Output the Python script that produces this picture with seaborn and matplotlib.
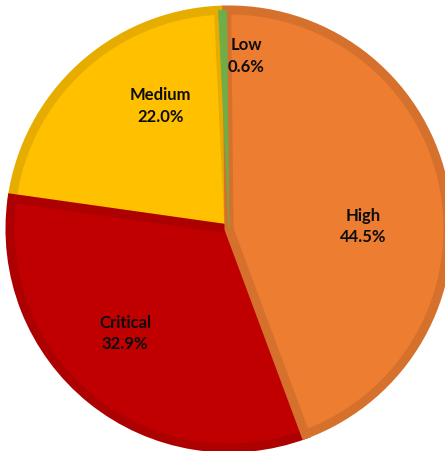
import matplotlib
matplotlib.use("Agg")
import matplotlib.pyplot as plt
import matplotlib.colors as mcolors
import seaborn as sns

# Severity breakdown (percent), listed counter-clockwise from the top
categories = ["Low", "Medium", "Critical", "High"]
shares = [0.6, 22.0, 32.9, 44.5]
fill_colors = ["#70AD47", "#FFC000", "#C00000", "#ED7D31"]

# Label anchor points (fractions of the axes) for each slice's text
label_pos = [(0.553, 0.876), (0.360, 0.765), (0.281, 0.260), (0.816, 0.497)]

sns.set_theme(style="white")
plt.rcParams["font.family"] = ["Lato", "DejaVu Sans"]

fig = plt.figure(figsize=(4.45, 4.51), dpi=100)
ax = fig.add_axes([0, 0, 1, 1])

wedges, _ = ax.pie(shares, colors=fill_colors, startangle=90.6,
                   counterclock=True, radius=1.0)


def darker(c, f=0.9):
    r, g, b = mcolors.to_rgb(c)
    return (r * f, g * f, b * f)


# Inner bevel-like border: a thick stroke clipped to each slice's own outline
for w, c, s in zip(wedges, fill_colors, shares):
    if s > 2:
        w.set_edgecolor(darker(c))
        w.set_linewidth(6.5)
        w.set_clip_path(w.get_path(), w.get_transform())
    else:
        w.set_edgecolor(c)
        w.set_linewidth(0.5)
    w.set_zorder(2 if s > 2 else 3)

for (x, y), name, val in zip(label_pos, categories, shares):
    ax.text(x, y, f"{name}\n{val:.1f}%", transform=ax.transAxes,
            ha="center", va="center", fontsize=12, fontweight="bold",
            color="#0d0d0d", linespacing=1.4, zorder=5)

# Center at (229, 229) px, radius 219 px
r_px = 219.0
cx, cy = 229.0, 229.0
ax.set_xlim(-cx / r_px, (445 - cx) / r_px)
ax.set_ylim(-(451 - cy) / r_px, cy / r_px)
ax.set_aspect("auto")
ax.axis("off")

fig.savefig("out.png", dpi=100)
